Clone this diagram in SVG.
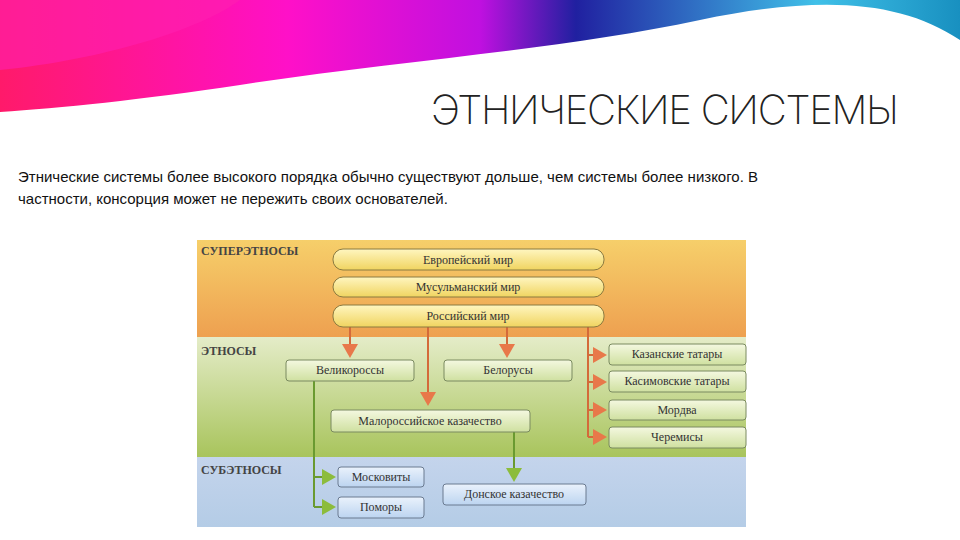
<svg xmlns="http://www.w3.org/2000/svg" width="960" height="540" viewBox="0 0 960 540">
<defs>
<linearGradient id="sw" x1="0" y1="0" x2="1" y2="0"><stop offset="0" stop-color="#ff1a6a"/><stop offset="0.3" stop-color="#ff10c8"/><stop offset="0.5" stop-color="#c010e0"/><stop offset="0.6" stop-color="#2020a0"/><stop offset="0.85" stop-color="#40c0e8"/><stop offset="1" stop-color="#1890c0"/></linearGradient>
<linearGradient id="g1" x1="0" y1="0" x2="0" y2="1"><stop offset="0" stop-color="#f6cf6a"/><stop offset="1" stop-color="#eea050"/></linearGradient>
<linearGradient id="g2" x1="0" y1="0" x2="0" y2="1"><stop offset="0" stop-color="#e4ecc8"/><stop offset="1" stop-color="#a8c45c"/></linearGradient>
<linearGradient id="g3" x1="0" y1="0" x2="0" y2="1"><stop offset="0" stop-color="#c4d4ec"/><stop offset="1" stop-color="#b4cce6"/></linearGradient>
<linearGradient id="pill" x1="0" y1="0" x2="0" y2="1"><stop offset="0" stop-color="#fff6c0"/><stop offset="1" stop-color="#f0d460"/></linearGradient>
<linearGradient id="gb" x1="0" y1="0" x2="0" y2="1"><stop offset="0" stop-color="#f4f8e0"/><stop offset="1" stop-color="#cfe0a0"/></linearGradient>
<linearGradient id="bb" x1="0" y1="0" x2="0" y2="1"><stop offset="0" stop-color="#eaf2fc"/><stop offset="1" stop-color="#bcd4f0"/></linearGradient>
<marker id="ao" markerWidth="7" markerHeight="8" refX="3" refY="4" orient="auto" markerUnits="strokeWidth"><path d="M0,0 L7,4 L0,8 Z" fill="#e8784a"/></marker>
<marker id="ag" markerWidth="7" markerHeight="8" refX="3" refY="4" orient="auto" markerUnits="strokeWidth"><path d="M0,0 L7,4 L0,8 Z" fill="#8cbc3c"/></marker>
</defs>
<style>
.t{font-family:"Liberation Serif",serif;font-size:12px;fill:#333;text-anchor:middle}
.h{font-family:"Liberation Serif",serif;font-size:12px;font-weight:bold;fill:#444}
.p{fill:url(#pill);stroke:#8a7a40;stroke-width:1}
.g{fill:url(#gb);stroke:#7a8a60;stroke-width:1}
.b{fill:url(#bb);stroke:#6a7a90;stroke-width:1}
.o{stroke:#d46a3a;stroke-width:2;fill:none}
.gr{stroke:#6a9a30;stroke-width:2;fill:none}
</style>
<rect width="960" height="540" fill="#fff"/>
<path d="M0,0 L960,0 L960,40 C900,0 820,-5 700,20 C560,50 400,60 240,85 C140,100 60,108 0,112 Z" fill="url(#sw)"/>
<path d="M0,0 L240,0 C200,30 100,60 0,70 Z" fill="#ff20b0" opacity="0.6"/>
<text x="665" y="124" font-family="Inter, sans-serif" font-size="40" font-weight="200" fill="#222" text-anchor="middle" textLength="468">ЭТНИЧЕСКИЕ СИСТЕМЫ</text>
<text font-family="Liberation Sans, sans-serif" font-size="15" fill="#111"><tspan x="18" y="182">Этнические системы более высокого порядка обычно существуют дольше, чем системы более низкого. В</tspan><tspan x="18" y="204">частности, консорция может не пережить своих основателей.</tspan></text>
<g id="bands">
<rect x="197" y="240" width="549" height="97" fill="url(#g1)"/>
<rect x="197" y="337" width="549" height="120" fill="url(#g2)"/>
<rect x="197" y="457" width="549" height="70" fill="url(#g3)"/>
<text class="h" x="201" y="255">СУПЕРЭТНОСЫ</text>
<text class="h" x="201" y="355">ЭТНОСЫ</text>
<text class="h" x="201" y="474">СУБЭТНОСЫ</text>
</g>
<g id="connectors">
<path class="o" d="M350,327 V350" marker-end="url(#ao)"/>
<path class="o" d="M428,327 V398" marker-end="url(#ao)"/>
<path class="o" d="M507,327 V350" marker-end="url(#ao)"/>
<path class="o" d="M588,327 V437"/>
<path class="o" d="M588,355 H599" marker-end="url(#ao)"/>
<path class="o" d="M588,382 H599" marker-end="url(#ao)"/>
<path class="o" d="M588,410 H599" marker-end="url(#ao)"/>
<path class="o" d="M588,437 H599" marker-end="url(#ao)"/>
<path class="gr" d="M314,381 V507"/>
<path class="gr" d="M314,477 H328" marker-end="url(#ag)"/>
<path class="gr" d="M314,507 H328" marker-end="url(#ag)"/>
<path class="gr" d="M514,432 V474" marker-end="url(#ag)"/>
</g>
<g id="n-evr"><rect class="p" x="333" y="249" width="271" height="21" rx="10"/><text class="t" x="468" y="264">Европейский мир</text></g>
<g id="n-mus"><rect class="p" x="333" y="277" width="271" height="20" rx="10"/><text class="t" x="468" y="291">Мусульманский мир</text></g>
<g id="n-ros"><rect class="p" x="333" y="305" width="271" height="22" rx="10"/><text class="t" x="468" y="320">Российский мир</text></g>
<g id="n-vel"><rect class="g" x="286" y="360" width="128" height="21" rx="3"/><text class="t" x="350" y="374">Великороссы</text></g>
<g id="n-bel"><rect class="g" x="444" y="360" width="128" height="21" rx="3"/><text class="t" x="508" y="374">Белорусы</text></g>
<g id="n-mal"><rect class="g" x="331" y="410" width="199" height="22" rx="3"/><text class="t" x="430" y="425">Малороссийское казачество</text></g>
<g id="n-kaz"><rect class="g" x="609" y="344" width="137" height="21" rx="3"/><text class="t" x="677" y="358">Казанские татары</text></g>
<g id="n-kas"><rect class="g" x="609" y="371" width="137" height="21" rx="3"/><text class="t" x="677" y="385">Касимовские татары</text></g>
<g id="n-mor"><rect class="g" x="609" y="400" width="137" height="20" rx="3"/><text class="t" x="677" y="414">Мордва</text></g>
<g id="n-che"><rect class="g" x="609" y="427" width="137" height="21" rx="3"/><text class="t" x="677" y="441">Черемисы</text></g>
<g id="n-mos"><rect class="b" x="338" y="467" width="86" height="20" rx="3"/><text class="t" x="381" y="481">Московиты</text></g>
<g id="n-pom"><rect class="b" x="338" y="497" width="86" height="21" rx="3"/><text class="t" x="381" y="511">Поморы</text></g>
<g id="n-don"><rect class="b" x="443" y="484" width="143" height="21" rx="3"/><text class="t" x="514" y="498">Донское казачество</text></g>
</svg>
